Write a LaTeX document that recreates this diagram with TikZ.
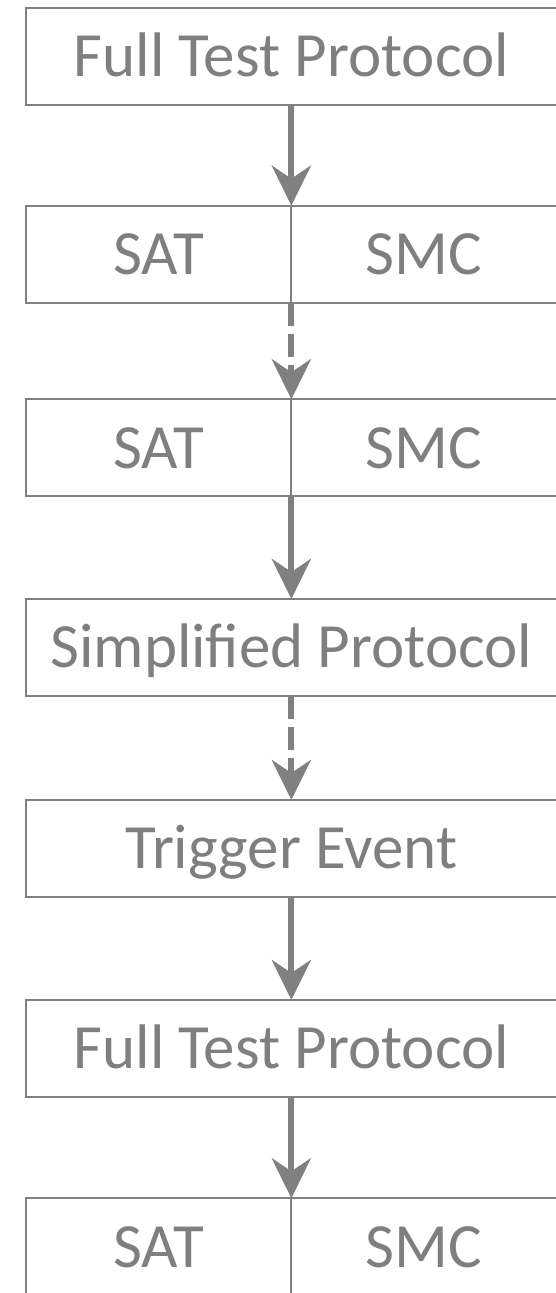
\documentclass[tikz,border=0pt]{standalone}
\usepackage{fontspec}
\setmainfont{Carlito}
\usetikzlibrary{arrows.meta}
\definecolor{linegray}{HTML}{808080}
\definecolor{textgray}{HTML}{7F7F7F}
\tikzset{
  box/.style={draw=linegray, line width=1.8pt, rectangle, anchor=north west,
    minimum width=531.3pt, minimum height=97pt, inner sep=0pt, outer sep=0pt,
    text=textgray, font=\fontsize{63}{75}\selectfont, text height=40.5pt, text depth=0pt},
  halfbox/.style={box, minimum width=265.65pt},
  flow/.style={draw=linegray, line width=6pt,
    -{Stealth[length=40pt, width=39pt, inset=13pt]}},
  dflow/.style={flow, dash pattern=on 23pt off 8pt}
}
\begin{document}
\begin{tikzpicture}[x=1pt, y=-1pt]
  \useasboundingbox (0,0) rectangle (556,1293);
  \clip (0,0) rectangle (556,1293);

  \node[box] (p1) at (25.7,7.7) {Full Test Protocol};

  \node[halfbox] (s1) at (25.7,205.7) {SAT};
  \node[halfbox] (m1) at (291.35,205.7) {SMC};

  \node[halfbox] (s2) at (25.7,399.3) {SAT};
  \node[halfbox] (m2) at (291.35,399.3) {SMC};

  \node[box] (p2) at (25.7,599) {Simplified Protocol};
  \node[box] (ev) at (25.7,800) {Trigger Event};
  \node[box] (p3) at (25.7,1000) {Full Test Protocol};

  \node[halfbox] (s3) at (25.7,1198.3) {SAT};
  \node[halfbox] (m3) at (291.35,1198.3) {SMC};

  \draw[flow]  (p1.south) -- (s1.north east);
  \draw[dflow] (s1.south east) -- (s2.north east);
  \draw[flow]  (s2.south east) -- (p2.north);
  \draw[dflow] (p2.south) -- (ev.north);
  \draw[flow]  (ev.south) -- (p3.north);
  \draw[flow]  (p3.south) -- (s3.north east);
\end{tikzpicture}
\end{document}
